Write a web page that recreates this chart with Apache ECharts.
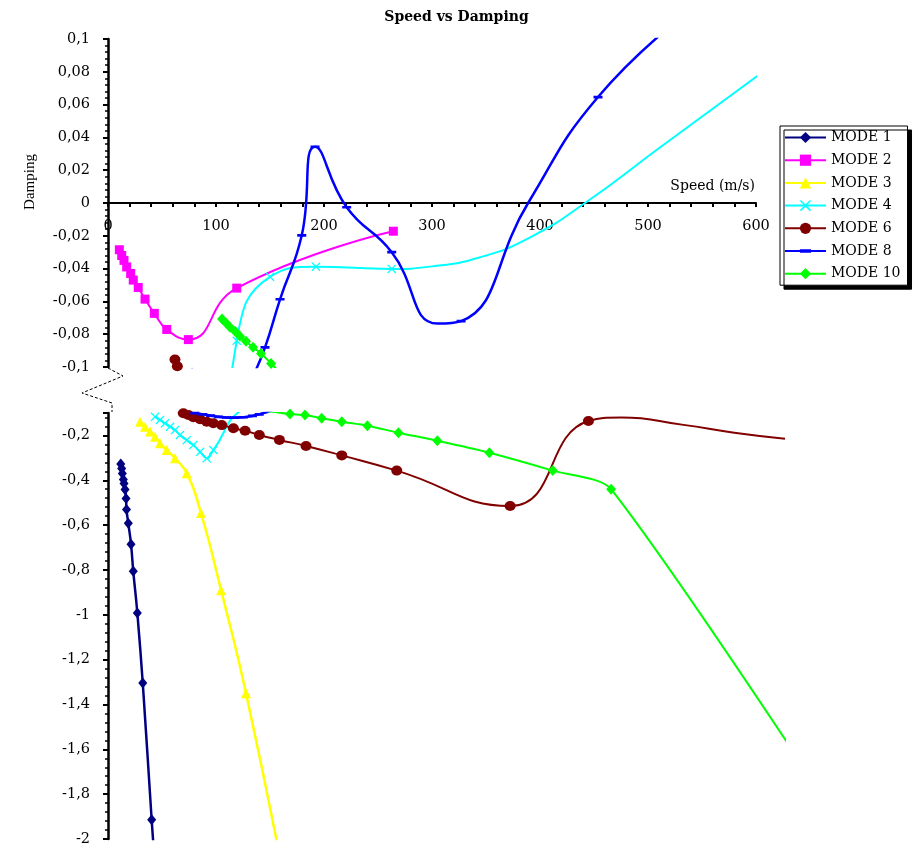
<!DOCTYPE html>
<html><head><meta charset="utf-8">
<script src="https://cdn.jsdelivr.net/npm/echarts@6/dist/echarts.min.js"></script>
<style>html,body{margin:0;padding:0;background:#fff}#c{width:913px;height:848px}</style>
</head><body><div id="c"></div>
<script>
// ---- data (speed in m/s, damping) ----
const legendNames = ['MODE 1', 'MODE 2', 'MODE 3', 'MODE 4', 'MODE 6', 'MODE 8', 'MODE 10'];

const mode1Speed = [11.3, 12.1, 12.7, 13.6, 14.2, 15.1, 16.0, 16.4, 18.0, 20.4, 22.4, 26.0, 30.8, 38.7, 44];
const mode1Damp  = [-0.328, -0.347, -0.370, -0.397, -0.414, -0.441, -0.481, -0.530, -0.592, -0.685, -0.806, -0.992, -1.304, -1.914, -2.3];

const mode2Speed = [10.5, 12.7, 14.8, 17.3, 21.0, 23.4, 28.0, 34.3, 42.9, 54.4, 74.4, 119.2, 264.2];
const mode2Damp  = [-0.0285, -0.032, -0.035, -0.039, -0.043, -0.047, -0.0515, -0.0586, -0.0673, -0.0771, -0.0833, -0.0519, -0.0172];

const mode3Speed = [28.4, 32.8, 37.2, 41.7, 46.1, 52.0, 59.4, 69.8, 82.4, 100.2, 122.3, 155];
const mode3Damp  = [-0.139, -0.161, -0.183, -0.206, -0.235, -0.265, -0.302, -0.369, -0.546, -0.89, -1.35, -2.15];

const mode4Speed = [41.7, 46.1, 50.5, 55.0, 59.4, 63.8, 69.8, 75.6, 81.6, 87.5, 93.4, 119.2, 150, 192.6, 262.7];
const mode4Damp  = [-0.117, -0.131, -0.146, -0.161, -0.176, -0.198, -0.221, -0.243, -0.273, -0.302, -0.265, -0.084, -0.045, -0.0388, -0.0402];
const mode4TraceSpeed = [298, 344, 391, 441.7, 511, 604];
const mode4TraceDamp  = [-0.0388, -0.0332, -0.0209, 0, 0.0338, 0.0788];

const mode6Speed = [62.0, 64.2, 66.8, 71.2, 75.6, 81.6, 87.5, 93.4, 100.8, 111.1, 121.5, 134.1, 151.9, 175.5, 207.2, 255.9, 356.4, 425.8];
const mode6Damp  = [-0.0954, -0.0995, -0.101, -0.109, -0.119, -0.128, -0.139, -0.146, -0.154, -0.168, -0.179, -0.198, -0.220, -0.247, -0.289, -0.357, -0.515, -0.136];
const mode6TraceSpeed = [455, 510, 555, 600];
const mode6TraceDamp  = [-0.12, -0.153, -0.188, -0.215];

const mode8Speed = [77, 84, 91, 98, 105, 112, 120, 128, 134, 145.4, 159.3, 179.4, 191.7, 221, 262.7, 326.9, 453.7, 540];
const mode8Damp  = [-0.101, -0.106, -0.112, -0.117, -0.12, -0.121, -0.119, -0.113, -0.106, -0.088, -0.0587, -0.0197, 0.0343, -0.0026, -0.030, -0.072, 0.0646, 0.118];
const mode8TraceSpeed = [305, 389];
const mode8TraceDamp  = [-0.0735, 0];

const mode10Speed = [105.6, 109.3, 113, 117.6, 122.2, 127.8, 134.3, 141.7, 151, 161.3, 174.6, 189.4, 207.2, 229.9, 257.4, 291.9, 338, 394.2, 445.9, 700];
const mode10Damp  = [-0.0708, -0.0732, -0.0757, -0.0782, -0.0812, -0.0843, -0.088, -0.0917, -0.0978, -0.1045, -0.1089, -0.1236, -0.1388, -0.1567, -0.1879, -0.2236, -0.277, -0.357, -0.4397, -2.32];

// ---- build ----
const WIDE = '"DejaVu Serif", serif';
function pairs(s, d, ts, td) {
  const pts = s.map((x, i) => ({ value: [x, d[i]] }));
  if (ts) ts.forEach((x, i) => pts.push({ value: [x, td[i]], symbol: 'none' }));
  pts.sort((a, b) => a.value[0] - b.value[0]);
  return pts;
}
function fmt(v) { return String(+v.toFixed(2)).replace('.', ','); }

const xSym = 'path://M0,1 L1,0 L5,4 L9,0 L10,1 L6,5 L10,9 L9,10 L5,6 L1,10 L0,9 L4,5 Z';
const dashSym = 'path://M0,0 L0.01,0 L0,0.01 Z M0,3.5 L10,3.5 L10,6.5 L0,6.5 Z M9.99,10 L10,10 L10,9.99 Z';

const modes = [
  { name: 'MODE 1', color: '#000080', symbol: 'diamond', size: [9, 11], width: 2.5, smooth: 0.5, data: pairs(mode1Speed, mode1Damp) },
  { name: 'MODE 2', color: '#FF00FF', symbol: 'rect', size: 9, width: 2, smooth: 0.5, data: pairs(mode2Speed, mode2Damp) },
  { name: 'MODE 3', color: '#FFFF00', symbol: 'triangle', size: [10, 10], width: 2.5, smooth: 0.5, data: pairs(mode3Speed, mode3Damp) },
  { name: 'MODE 4', color: '#00FFFF', symbol: xSym, size: 9, width: 2, smooth: 0.5, data: pairs(mode4Speed, mode4Damp, mode4TraceSpeed, mode4TraceDamp) },
  { name: 'MODE 6', color: '#800000', symbol: 'circle', size: [11, 10], width: 2, smooth: 0.5, data: pairs(mode6Speed, mode6Damp, mode6TraceSpeed, mode6TraceDamp) },
  { name: 'MODE 8', color: '#0000FF', symbol: dashSym, size: 9, width: 2.5, smooth: 0.5, data: pairs(mode8Speed, mode8Damp, mode8TraceSpeed, mode8TraceDamp) },
  { name: 'MODE 10', color: '#00FF00', symbol: 'diamond', size: [10, 11], width: 2, smooth: 0.25, data: pairs(mode10Speed, mode10Damp) }
];

const series = [];
modes.forEach(m => {
  [0, 1].forEach(g => series.push({
    type: 'line', name: m.name, xAxisIndex: g, yAxisIndex: g, data: m.data,
    smooth: m.smooth, symbol: m.symbol, symbolSize: m.size, showAllSymbol: true, clip: true,
    lineStyle: { color: m.color, width: m.width },
    itemStyle: { color: m.color },
    emphasis: { disabled: true }, animation: false
  }));
});

const labelStyle = { fontFamily: WIDE, fontSize: 14.5, color: '#000' };

const option = {
  animation: false,
  backgroundColor: '#fff',
  title: {
    text: 'Speed vs Damping', left: 'center', top: 5,
    textStyle: { fontFamily: WIDE, fontSize: 14, fontWeight: 'bold', color: '#000' }
  },
  legend: {
    data: legendNames, orient: 'vertical', left: 780, top: 126,
    itemWidth: 41, itemHeight: 14, itemGap: 7.7, padding: [4, 7, 4, 4],
    backgroundColor: '#fff', borderColor: '#000', borderWidth: 1,
    shadowColor: '#000', shadowOffsetX: 4, shadowOffsetY: 4, shadowBlur: 0,
    textStyle: { fontFamily: WIDE, fontSize: 14, color: '#000', lineHeight: 15 },
    selectedMode: false
  },
  grid: [
    { left: 108, top: 39, width: 648, height: 328, containLabel: false },
    { left: 108, top: 413, width: 677, height: 426, containLabel: false }
  ],
  xAxis: [
    {
      gridIndex: 0, type: 'value', min: 0, max: 600, interval: 100, position: 'bottom', offset: -164,
      axisLine: { onZero: false, lineStyle: { color: '#000', width: 2 } },
      axisTick: { show: true, length: 4, lineStyle: { color: '#000', width: 2 } },
      minorTick: { show: true, splitNumber: 5, length: 4, lineStyle: { color: '#000', width: 2 } },
      splitLine: { show: false }, minorSplitLine: { show: false },
      axisLabel: Object.assign({ margin: 16, formatter: v => String(v) }, labelStyle)
    },
    {
      gridIndex: 1, type: 'value', min: 0, max: 600, interval: 100, show: false,
      splitLine: { show: false }
    }
  ],
  yAxis: [
    {
      gridIndex: 0, type: 'value', min: -0.1, max: 0.1, interval: 0.02,
      axisLine: { show: true, onZero: false, lineStyle: { color: '#000', width: 2.5 } },
      axisTick: { show: true, length: 5, lineStyle: { color: '#000', width: 2 } },
      minorTick: { show: true, splitNumber: 5, length: 3, lineStyle: { color: '#000', width: 1.5 } },
      splitLine: { show: false },
      axisLabel: Object.assign({ margin: 18, formatter: fmt }, labelStyle)
    },
    {
      gridIndex: 1, type: 'value', min: -2, max: -0.1, interval: 0.2,
      axisLine: { show: true, onZero: false, lineStyle: { color: '#000', width: 2.5 } },
      axisTick: { show: true, length: 5, lineStyle: { color: '#000', width: 2 } },
      minorTick: { show: true, splitNumber: 5, length: 3, lineStyle: { color: '#000', width: 1.5 } },
      splitLine: { show: false },
      axisLabel: Object.assign({ margin: 18, formatter: fmt, showMaxLabel: false }, labelStyle)
    }
  ],
  graphic: [
    { type: 'text', x: 755, y: 186, style: { text: 'Speed (m/s)', font: '14px "DejaVu Serif", serif', fill: '#000', align: 'right', verticalAlign: 'middle' } },
    { type: 'text', x: 30, y: 182, rotation: Math.PI / 2, style: { text: 'Damping', font: '15px "Liberation Serif", serif', fill: '#000', align: 'center', verticalAlign: 'middle' } },
    { type: 'polyline', shape: { points: [[108, 368], [123, 376], [82, 393], [112, 403], [112, 412]] },
      style: { stroke: '#000', lineWidth: 1, lineDash: [3, 2], fill: null } }
  ],
  series: series
};

const chart = echarts.init(document.getElementById('c'));
chart.setOption(option);
</script>
</body></html>
